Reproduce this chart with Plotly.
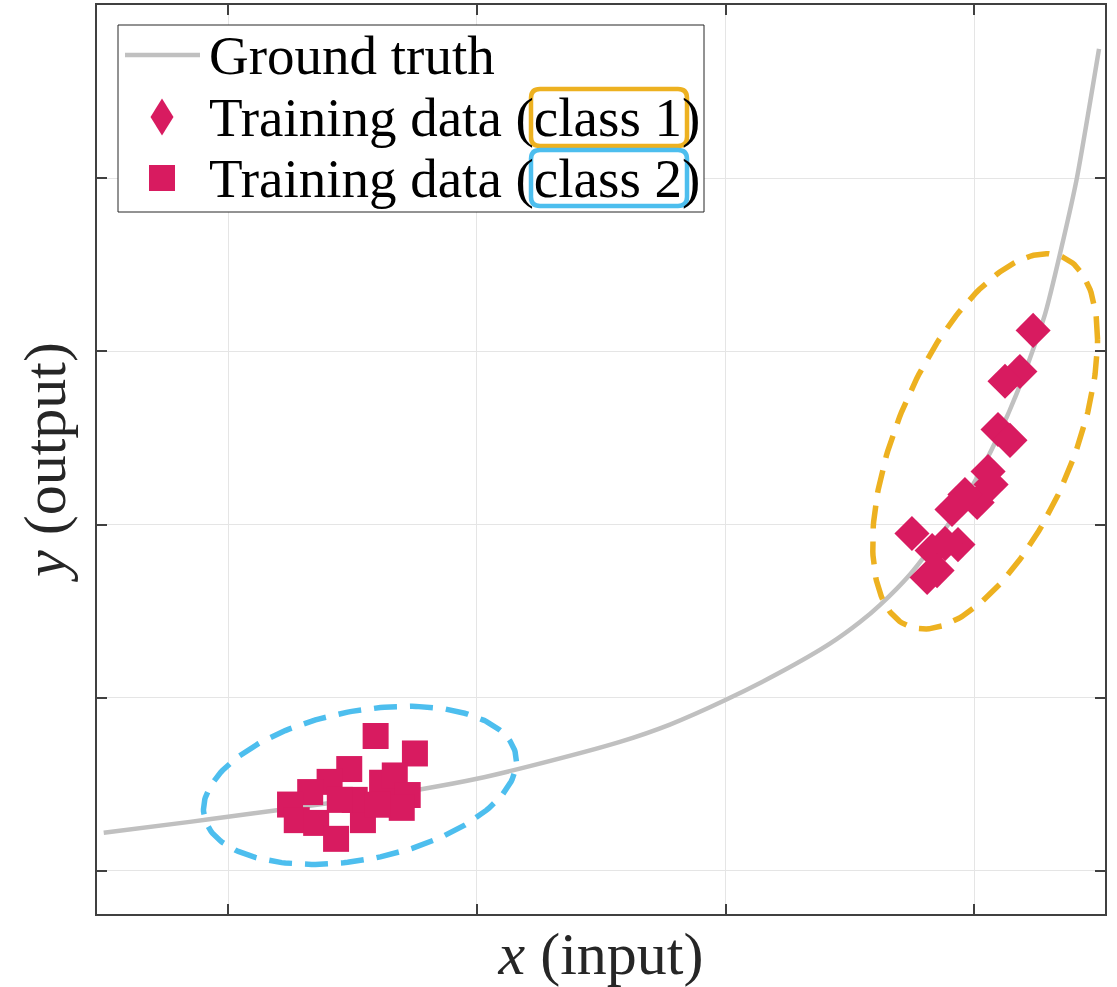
import numpy as np
import plotly.graph_objects as go

# ---------------- data ----------------
truth_x = [0.500, 0.846, 1.007, 1.196, 1.500, 1.782, 2.000, 2.213, 2.575, 2.776,
           2.997, 3.218, 3.419, 3.540, 3.620, 3.741, 3.890, 4.002, 4.091, 4.183,
           4.284, 4.356, 4.412, 4.501]
truth_y = [0.220, 0.283, 0.314, 0.350, 0.410, 0.473, 0.532, 0.605, 0.745, 0.845,
           0.985, 1.145, 1.312, 1.437, 1.535, 1.712, 1.990, 2.249, 2.497, 2.803,
           3.215, 3.636, 4.000, 4.746]

class1_x = [4.236, 4.183, 4.123, 4.095, 4.143, 4.055, 4.067, 4.011, 3.962, 3.910,
            3.749, 3.934, 3.882, 3.830, 3.850, 3.810]
class1_y = [3.121, 2.884, 2.827, 2.549, 2.486, 2.306, 2.231, 2.127, 2.173, 2.087,
            1.948, 1.884, 1.890, 1.850, 1.734, 1.694]

class2_x = [1.593, 1.751, 1.487, 1.408, 1.330, 1.249, 1.276, 1.354, 1.434, 1.542,
            1.619, 1.670, 1.722, 1.698, 1.509, 1.449, 1.602]
class2_y = [0.779, 0.678, 0.588, 0.514, 0.455, 0.383, 0.293, 0.277, 0.185, 0.293,
            0.509, 0.551, 0.438, 0.364, 0.410, 0.410, 0.382]

x_ticks = [1, 2, 3, 4]
y_ticks = [0, 1, 2, 3, 4]

# ellipse outlines: centre and conjugate half-axis vectors (data units)
ell1 = dict(cx=4.043, cy=2.480, ax=0.452, ay=0.590, by=0.909)
ell2 = dict(cx=1.530, cy=0.494, ax=0.629, ay=0.139, by=0.435)

legend_names = ["Ground truth", "Training data (", "class 1", "class 2", ")"]

# ---------------- styling ----------------
PINK = "#D81B60"
ORANGE = "#EDB120"
BLUE = "#4DBEEE"
GRAY = "#C0C0C0"
FONT = "Liberation Serif"
LFS = 55  # legend font size

W, H = 1117, 987
ML, MR, MT, MB = 97, 12, 5, 73
PW, PH = W - ML - MR, H - MT - MB


def ellipse(e):
    t = np.linspace(0, 2 * np.pi, 241)
    return (e["cx"] + e["ax"] * np.cos(t),
            e["cy"] + e["ay"] * np.cos(t) + e["by"] * np.sin(t))


def px2paper(px, py):
    return (px - ML) / PW, 1 - (py - MT) / PH


def pix_path(points):
    parts = []
    for i, (px, py) in enumerate(points):
        a, b = px2paper(px, py)
        parts.append(("M " if i == 0 else "L ") + f"{a:.5f},{b:.5f}")
    return " ".join(parts) + " Z"


def rounded_rect(x0, y0, x1, y1, r=9):
    rx, ry = r / PW, r / PH
    a0, b0 = px2paper(x0, y1)
    a1, b1 = px2paper(x1, y0)
    return (f"M {a0+rx},{b0} L {a1-rx},{b0} Q {a1},{b0} {a1},{b0+ry} "
            f"L {a1},{b1-ry} Q {a1},{b1} {a1-rx},{b1} L {a0+rx},{b1} "
            f"Q {a0},{b1} {a0},{b1-ry} L {a0},{b0+ry} Q {a0},{b0} {a0+rx},{b0} Z")


fig = go.Figure()
fig.add_trace(go.Scatter(x=truth_x, y=truth_y, mode="lines",
                         line=dict(color=GRAY, width=4.5, shape="spline", smoothing=0.6),
                         name=legend_names[0], showlegend=False, hoverinfo="skip"))
fig.add_trace(go.Scatter(x=class2_x, y=class2_y, mode="markers", showlegend=False,
                         name="Training data (class 2)",
                         marker=dict(symbol="square", size=26, color=PINK,
                                     line=dict(width=0))))
fig.add_trace(go.Scatter(x=class1_x, y=class1_y, mode="markers", showlegend=False,
                         name="Training data (class 1)",
                         marker=dict(symbol="diamond", size=27, color=PINK,
                                     line=dict(width=0))))
for e, c in ((ell1, ORANGE), (ell2, BLUE)):
    ex, ey = ellipse(e)
    fig.add_trace(go.Scatter(x=ex, y=ey, mode="lines", showlegend=False,
                             line=dict(color=c, width=5.5, dash="23px,13px"),
                             hoverinfo="skip"))

# ---------------- legend (drawn in paper space) ----------------
BOX = (118, 25, 704, 212)
ROWS = [55, 117, 178]
TX = 207
GX = 162

shapes = []
b0 = px2paper(BOX[0], BOX[3])
b1 = px2paper(BOX[2], BOX[1])
shapes.append(dict(type="rect", xref="paper", yref="paper", x0=b0[0], y0=b0[1],
                   x1=b1[0], y1=b1[1], fillcolor="white",
                   line=dict(color="#262626", width=1), layer="above"))
l0 = px2paper(125, ROWS[0])
l1 = px2paper(200, ROWS[0])
shapes.append(dict(type="line", xref="paper", yref="paper", x0=l0[0], y0=l0[1],
                   x1=l1[0], y1=l1[1], line=dict(color=GRAY, width=4.5), layer="above"))
shapes.append(dict(type="path", xref="paper", yref="paper", layer="above",
                   path=pix_path([(GX, ROWS[1] - 18.5), (GX + 11.5, ROWS[1]),
                                  (GX, ROWS[1] + 18.5), (GX - 11.5, ROWS[1])]),
                   fillcolor=PINK, line=dict(width=0)))
shapes.append(dict(type="path", xref="paper", yref="paper", layer="above",
                   path=pix_path([(GX - 13, ROWS[2] - 13), (GX + 13, ROWS[2] - 13),
                                  (GX + 13, ROWS[2] + 13), (GX - 13, ROWS[2] + 13)]),
                   fillcolor=PINK, line=dict(width=0)))
shapes.append(dict(type="path", xref="paper", yref="paper", layer="above",
                   path=rounded_rect(531, 89, 687, 146),
                   line=dict(color=ORANGE, width=4.5)))
shapes.append(dict(type="path", xref="paper", yref="paper", layer="above",
                   path=rounded_rect(531, 150, 687, 206),
                   line=dict(color=BLUE, width=4.5)))

texts = [legend_names[0],
         legend_names[1] + legend_names[2] + legend_names[4],
         legend_names[1] + legend_names[3] + legend_names[4]]
annotations = []
for t, ry in zip(texts, ROWS):
    ax_, ay_ = px2paper(TX, ry)
    annotations.append(dict(text=t, x=ax_, y=ay_, xref="paper", yref="paper",
                            xanchor="left", yanchor="middle", showarrow=False,
                            font=dict(family=FONT, size=LFS, color="black")))

axis_common = dict(showgrid=True, gridcolor="#E5E5E5", gridwidth=1, zeroline=False,
                   showline=True, linecolor="#404040", linewidth=1.5, mirror="ticks",
                   ticks="inside", ticklen=10, tickwidth=1.5, tickcolor="#404040",
                   showticklabels=False)

fig.update_layout(
    width=W, height=H, margin=dict(l=ML, r=MR, t=MT, b=MB),
    paper_bgcolor="white", plot_bgcolor="white",
    xaxis=dict(range=[0.473, 4.525], tickvals=x_ticks,
               title=dict(text="<i>x</i> (input)",
                          font=dict(family=FONT, size=60, color="#262626"),
                          standoff=23),
               automargin=False, **axis_common),
    yaxis=dict(range=[-0.249, 5.0], tickvals=y_ticks,
               title=dict(text="<i>y</i> (output)",
                          font=dict(family=FONT, size=60, color="#262626"),
                          standoff=10),
               automargin=False, **axis_common),
    shapes=shapes,
    annotations=annotations,
    showlegend=False,
)

fig.write_html("out.html")
